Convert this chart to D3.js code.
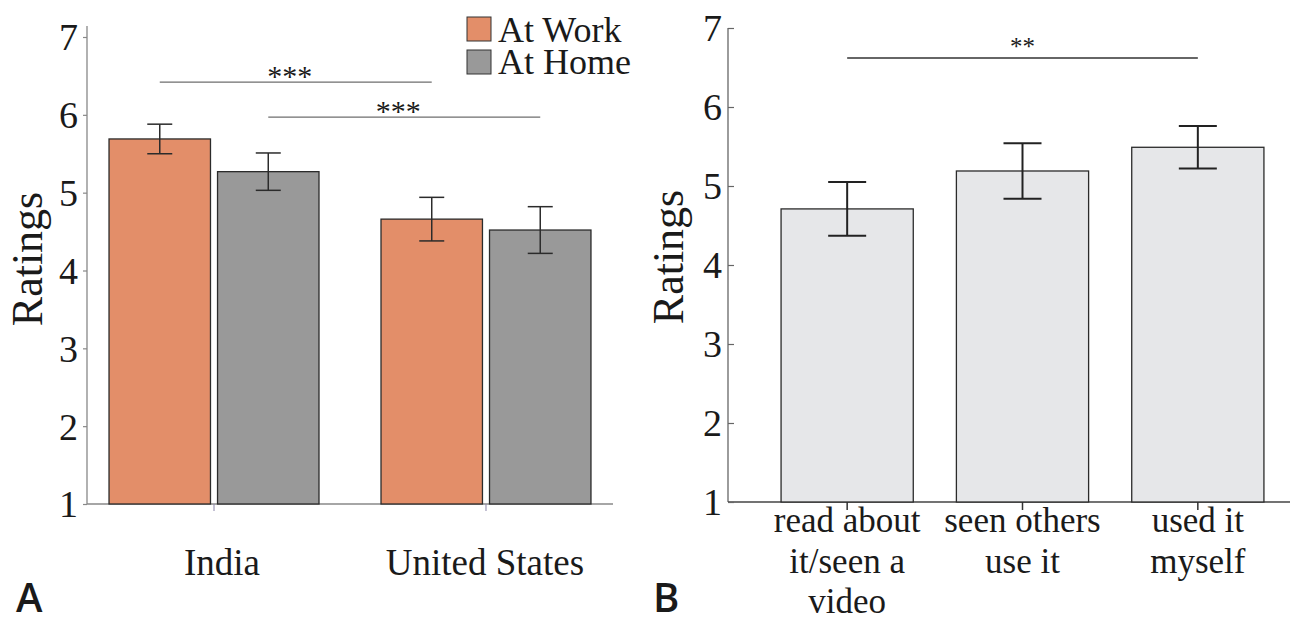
<!DOCTYPE html>
<html>
<head>
<meta charset="utf-8">
<script src="https://cdn.jsdelivr.net/npm/d3@7"></script>
<style>
  html, body { margin: 0; padding: 0; background: #fff; }
  svg { display: block; }
  text { font-family: "Liberation Serif", "Times New Roman", serif; fill: #1a1a1a; }
  text.panel { font-family: "Open Sans", "DejaVu Sans", sans-serif; font-weight: 600; }
</style>
</head>
<body>
<svg id="chart" width="1290" height="626"></svg>
<script>
// Panel A: ratings by country and setting
const countries = ["India", "United States"];
const settings = ["At Work", "At Home"];
const workMeans = [5.69, 4.66];
const workErr = [0.19, 0.28];
const homeMeans = [5.27, 4.52];
const homeErr = [0.24, 0.30];

// Panel B: ratings by exposure type
const exposures = [["read about", "it/seen a", "video"], ["seen others", "use it"], ["used it", "myself"]];
const exposureMeans = [4.71, 5.19, 5.49];
const exposureErr = [0.34, 0.35, 0.27];

const yTicks = [1, 2, 3, 4, 5, 6, 7];
const sigA = [
  { from: ["India", "At Work"], to: ["United States", "At Work"], label: "***", level: 6.42 },
  { from: ["India", "At Home"], to: ["United States", "At Home"], label: "***", level: 5.97 }
];
const sigB = [{ from: 0, to: 2, label: "**", level: 6.62 }];

const colors = { "At Work": "#e38e69", "At Home": "#999999" };

const svg = d3.select("#chart");

// ---------- Panel A ----------
const gA = svg.append("g");
const yA = d3.scaleLinear().domain([1, 7]).range([504, 37]);
const xA = d3.scaleBand().domain(countries).range([87, 613]).paddingInner(0.228).paddingOuter(0.081);
const xAin = d3.scaleBand().domain(settings).range([0, xA.bandwidth()]).paddingInner(0.065);

const rowsA = countries.flatMap((c, i) => [
  { country: c, setting: "At Work", mean: workMeans[i], err: workErr[i] },
  { country: c, setting: "At Home", mean: homeMeans[i], err: homeErr[i] }
]);

// axis lines
gA.append("line").attr("x1", 87).attr("x2", 87).attr("y1", yA(7.14)).attr("y2", yA(1))
  .attr("stroke", "#888").attr("stroke-width", 1.3);
gA.append("line").attr("x1", 87).attr("x2", 613).attr("y1", yA(1)).attr("y2", yA(1))
  .attr("stroke", "#888").attr("stroke-width", 1.3);

const axA = gA.append("g").attr("transform", "translate(87,0)")
  .call(d3.axisLeft(yA).tickValues(yTicks).tickSize(4).tickPadding(5).tickFormat(d3.format("d")));
axA.select(".domain").remove();
axA.selectAll(".tick line").attr("stroke", "#888").attr("stroke-width", 1.2);
axA.selectAll(".tick text").attr("font-size", 38).attr("font-family", "Liberation Serif").attr("fill", "#1a1a1a").attr("dy", "0.34em");

const axAx = gA.append("g").attr("transform", `translate(0,${yA(1)})`)
  .call(d3.axisBottom(xA).tickSize(7).tickFormat(""));
axAx.select(".domain").remove();
axAx.selectAll(".tick line").attr("stroke", "#8a84a8").attr("stroke-width", 1);

countries.forEach(c => {
  gA.append("text").attr("x", xA(c) + xA.bandwidth() / 2 + (c === "India" ? 8 : -1)).attr("y", 575)
    .attr("text-anchor", "middle").attr("font-size", 37).text(c);
});

// bars
gA.selectAll("rect.bar").data(rowsA).join("rect").attr("class", "bar")
  .attr("x", d => xA(d.country) + xAin(d.setting))
  .attr("width", xAin.bandwidth())
  .attr("y", d => yA(d.mean))
  .attr("height", d => yA(1) - yA(d.mean))
  .attr("fill", d => colors[d.setting])
  .attr("stroke", "#2b2b2b").attr("stroke-width", 1.3);

// error bars
const errA = gA.selectAll("g.err").data(rowsA).join("g").attr("class", "err")
  .attr("transform", d => `translate(${xA(d.country) + xAin(d.setting) + xAin.bandwidth() / 2},0)`);
errA.append("line").attr("y1", d => yA(d.mean + d.err)).attr("y2", d => yA(d.mean - d.err))
  .attr("stroke", "#2b2b2b").attr("stroke-width", 1.5);
errA.append("line").attr("x1", -12.5).attr("x2", 12.5).attr("y1", d => yA(d.mean + d.err)).attr("y2", d => yA(d.mean + d.err))
  .attr("stroke", "#2b2b2b").attr("stroke-width", 1.5);
errA.append("line").attr("x1", -12.5).attr("x2", 12.5).attr("y1", d => yA(d.mean - d.err)).attr("y2", d => yA(d.mean - d.err))
  .attr("stroke", "#2b2b2b").attr("stroke-width", 1.5);

// significance brackets
const barCenterA = ([c, s]) => xA(c) + xAin(s) + xAin.bandwidth() / 2;
sigA.forEach(s => {
  const x1 = barCenterA(s.from), x2 = barCenterA(s.to);
  gA.append("line").attr("x1", x1).attr("x2", x2).attr("y1", yA(s.level)).attr("y2", yA(s.level))
    .attr("stroke", "#6e6e6e").attr("stroke-width", 1.3);
  gA.append("text").attr("x", (x1 + x2) / 2 - 6).attr("y", yA(s.level) + 4)
    .attr("text-anchor", "middle").attr("font-size", 30).attr("fill", "#333").text(s.label);
});

// legend
const legA = gA.append("g").attr("transform", "translate(467,17)");
settings.forEach((s, i) => {
  legA.append("rect").attr("x", 0).attr("y", i * 33).attr("width", 24).attr("height", 24)
    .attr("fill", colors[s]).attr("stroke", "#333").attr("stroke-width", 1);
  legA.append("text").attr("x", 31).attr("y", i * 32 + 25).attr("font-size", 36).text(s);
});

// y label
gA.append("text").attr("transform", "translate(42,259) rotate(-90)")
  .attr("text-anchor", "middle").attr("font-size", 44).text("Ratings");

gA.append("text").attr("class", "panel").attr("x", 16).attr("y", 612)
  .attr("font-size", 40).text("A");

// ---------- Panel B ----------
const gB = svg.append("g");
const yB = d3.scaleLinear().domain([1, 7]).range([502, 28]);
const xB = d3.scaleBand().domain(d3.range(exposureMeans.length)).range([759.5, 1285.5])
  .paddingInner(0.246).paddingOuter(0.123);

gB.append("line").attr("x1", 728).attr("x2", 728).attr("y1", yB(7)).attr("y2", yB(1))
  .attr("stroke", "#666").attr("stroke-width", 1.3);
gB.append("line").attr("x1", 728).attr("x2", 1290).attr("y1", yB(1)).attr("y2", yB(1))
  .attr("stroke", "#444").attr("stroke-width", 1.3);

const axB = gB.append("g").attr("transform", "translate(728,0)")
  .call(d3.axisRight(yB).tickValues(yTicks).tickSize(6).tickFormat(""));
axB.select(".domain").remove();
axB.selectAll(".tick line").attr("stroke", "#666").attr("stroke-width", 1.2);
gB.selectAll("text.ytick").data(yTicks).join("text").attr("class", "ytick")
  .attr("x", 722).attr("y", d => yB(d)).attr("dy", "0.34em")
  .attr("text-anchor", "end").attr("font-size", 38).text(d => d);

const axBx = gB.append("g").attr("transform", `translate(0,${yB(1)})`)
  .call(d3.axisBottom(xB).tickSize(8).tickFormat(""));
axBx.select(".domain").remove();
axBx.selectAll(".tick line").attr("stroke", "#333").attr("stroke-width", 1.5);

exposures.forEach((lines, i) => {
  const t = gB.append("text").attr("x", xB(i) + xB.bandwidth() / 2).attr("y", 532)
    .attr("text-anchor", "middle").attr("font-size", 35);
  lines.forEach((ln, j) => t.append("tspan").attr("x", xB(i) + xB.bandwidth() / 2).attr("y", 532 + j * 40.5).text(ln));
});

gB.selectAll("rect.bar").data(exposureMeans).join("rect").attr("class", "bar")
  .attr("x", (d, i) => xB(i)).attr("width", xB.bandwidth())
  .attr("y", d => yB(d)).attr("height", d => yB(1) - yB(d))
  .attr("fill", "#e6e7e9").attr("stroke", "#2b2b2b").attr("stroke-width", 1.3);

const errB = gB.selectAll("g.err").data(exposureMeans).join("g").attr("class", "err")
  .attr("transform", (d, i) => `translate(${xB(i) + xB.bandwidth() / 2},0)`);
errB.append("line").attr("y1", (d, i) => yB(d + exposureErr[i])).attr("y2", (d, i) => yB(d - exposureErr[i]))
  .attr("stroke", "#222").attr("stroke-width", 2);
errB.append("line").attr("x1", -19).attr("x2", 19).attr("y1", (d, i) => yB(d + exposureErr[i])).attr("y2", (d, i) => yB(d + exposureErr[i]))
  .attr("stroke", "#222").attr("stroke-width", 2);
errB.append("line").attr("x1", -19).attr("x2", 19).attr("y1", (d, i) => yB(d - exposureErr[i])).attr("y2", (d, i) => yB(d - exposureErr[i]))
  .attr("stroke", "#222").attr("stroke-width", 2);

sigB.forEach(s => {
  const x1 = xB(s.from) + xB.bandwidth() / 2, x2 = xB(s.to) + xB.bandwidth() / 2;
  gB.append("line").attr("x1", x1).attr("x2", x2).attr("y1", yB(s.level)).attr("y2", yB(s.level))
    .attr("stroke", "#333").attr("stroke-width", 1.5);
  gB.append("text").attr("x", (x1 + x2) / 2).attr("y", yB(s.level) - 3)
    .attr("text-anchor", "middle").attr("font-size", 25).attr("fill", "#555").text(s.label);
});

gB.append("text").attr("transform", "translate(683,257) rotate(-90)")
  .attr("text-anchor", "middle").attr("font-size", 44).text("Ratings");

gB.append("text").attr("class", "panel").attr("x", 653).attr("y", 612)
  .attr("font-size", 40).text("B");
</script>
</body>
</html>
